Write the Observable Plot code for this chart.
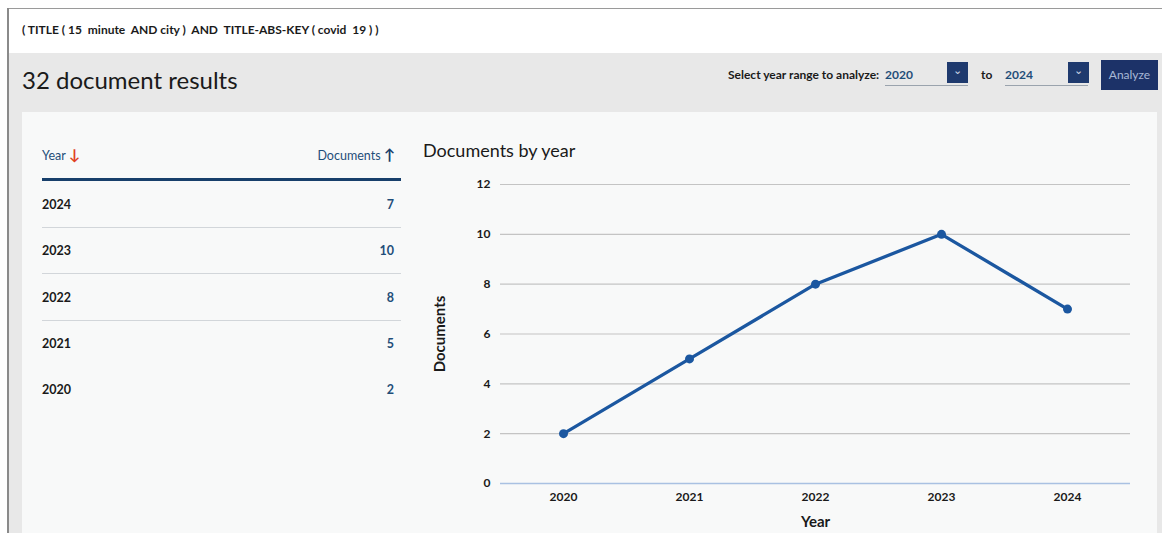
<!DOCTYPE html>
<html>
<head>
<meta charset="utf-8">
<script src="https://cdn.jsdelivr.net/npm/d3@7"></script>
<script src="https://cdn.jsdelivr.net/npm/@observablehq/plot@0.6"></script>
<style>
  html, body { margin: 0; padding: 0; background: #ffffff; }
  body { width: 1162px; height: 533px; position: relative; overflow: hidden; font-family: Lato, "Open Sans", sans-serif; color: #1a1a1a; }
  .abs { position: absolute; white-space: nowrap; }
  #frameTop { left: 7px; top: 8px; width: 1155px; height: 1px; background: #9a9a9a; }
  #frameLeft { left: 7px; top: 8px; width: 2px; height: 525px; background: #8a8a8a; }
  #query { left: 22px; top: 22px; font-size: 12px; font-weight: 700; }
  #band { left: 9px; top: 53px; width: 1153px; height: 480px; background: #e8e8e8; }
  #results { left: 22px; top: 65px; font-size: 24px; font-weight: 400; }
  #sel { left: 728px; top: 67px; font-size: 12px; font-weight: 700; }
  .yr { font-size: 12px; font-weight: 700; color: #1f4e79; }
  .uline { height: 1px; background: #9aa3ad; }
  .dd { width: 21px; height: 21px; background: #1f3a6e; color: #cfd8e6; font-size: 11px; text-align: center; line-height: 15px; }
  #to { left: 981px; top: 67px; font-size: 12px; font-weight: 700; }
  #analyze { left: 1101px; top: 60px; width: 57px; height: 30px; background: #1c3268; color: #a8b8d6; font-size: 12px; text-align: center; line-height: 30px; }
  #panel { left: 22px; top: 112px; width: 1135px; height: 421px; background: #f8f9f9; }
  .th { font-size: 12.5px; font-weight: 400; color: #1f4e79; top: 145px; }
  .arr { font-size: 15px; font-weight: 700; }
  #thick { left: 42px; top: 178px; width: 359px; height: 3px; background: #173f6b; }
  .row { font-size: 12.5px; font-weight: 700; color: #1a1a1a; left: 42px; }
  .val { font-size: 12.5px; font-weight: 700; color: #1f4e79; right: 768px; text-align: right; }
  .sep { left: 42px; width: 359px; height: 1px; background: #d2d6da; }
  #ctitle { left: 423px; top: 139px; font-size: 18px; font-weight: 400; }
  #chart { left: 420px; top: 170px; }
</style>
</head>
<body>
<div id="band" class="abs"></div>
<div id="frameTop" class="abs"></div>
<div id="frameLeft" class="abs"></div>
<div id="query" class="abs">( TITLE ( 15&nbsp; minute&nbsp; AND city )&nbsp; AND&nbsp; TITLE-ABS-KEY ( covid&nbsp; 19 ) )</div>
<div id="results" class="abs">32 document results</div>
<div id="sel" class="abs">Select year range to analyze:</div>
<div class="abs yr" style="left:885px;top:67px;">2020</div>
<div class="abs uline" style="left:885px;top:85px;width:83px;"></div>
<div class="abs dd" style="left:947px;top:62px;">&#8964;</div>
<div id="to" class="abs">to</div>
<div class="abs yr" style="left:1005px;top:67px;">2024</div>
<div class="abs uline" style="left:1005px;top:85px;width:83px;"></div>
<div class="abs dd" style="left:1068px;top:62px;">&#8964;</div>
<div id="analyze" class="abs">Analyze</div>
<div id="panel" class="abs"></div>
<div class="abs th" style="left:42px;">Year <span class="arr" style="color:#e0401f;">&#8595;</span></div>
<div class="abs th" style="right:767px;text-align:right;">Documents <span class="arr" style="color:#173f6b;">&#8593;</span></div>
<div id="thick" class="abs"></div>
<div id="rows"></div>
<div id="ctitle" class="abs">Documents by year</div>
<div id="chart" class="abs"></div>
<script>
const years = [2020, 2021, 2022, 2023, 2024];
const documents = [2, 5, 8, 10, 7];
const yTicks = [0, 2, 4, 6, 8, 10, 12];

const data = years.map((y, i) => ({year: y, docs: documents[i]}));

// table rows (descending by year)
const rowsEl = document.getElementById("rows");
const tableRows = data.slice().reverse();
tableRows.forEach((d, i) => {
  const top = 197 + i * 46.3;
  const r = document.createElement("div");
  r.className = "abs row"; r.style.top = top + "px"; r.textContent = d.year;
  rowsEl.appendChild(r);
  const v = document.createElement("div");
  v.className = "abs val"; v.style.top = top + "px"; v.textContent = d.docs;
  rowsEl.appendChild(v);
  if (i < tableRows.length - 2) {
    const s = document.createElement("div");
    s.className = "abs sep"; s.style.top = (top + 30) + "px";
    rowsEl.appendChild(s);
  }
});

const chart = Plot.plot({
  width: 730,
  height: 360,
  marginLeft: 80,
  marginRight: 20,
  marginTop: 14,
  marginBottom: 47,
  style: {fontFamily: "Lato, 'Open Sans', sans-serif", fontSize: "12px", fontWeight: 700, color: "#1a1a1a", background: "transparent"},
  x: {type: "point", domain: years, padding: 0.5, label: null},
  y: {domain: [0, 12], ticks: yTicks, label: null},
  marks: [
    Plot.gridY(yTicks.filter(t => t > 0), {stroke: "#c4c4c4", strokeOpacity: 1, strokeWidth: 1.2}),
    Plot.ruleY([0], {stroke: "#a9c1e2", strokeWidth: 1.5}),
    Plot.axisY({ticks: yTicks, tickSize: 0, tickPadding: 10, label: null, fontWeight: 700}),
    Plot.axisX({tickSize: 0, tickPadding: 9, label: null, tickFormat: d => String(d), fontWeight: 700}),
    Plot.lineY(data, {x: "year", y: "docs", stroke: "#1b57a0", strokeWidth: 3.3}),
    Plot.dot(data, {x: "year", y: "docs", fill: "#1b57a0", r: 4.5}),
    Plot.text(["Year"], {frameAnchor: "bottom", lineAnchor: "middle", dy: 39, fontSize: 15, fontWeight: 700, fill: "#1a1a1a", text: d => d}),
    Plot.text(["Documents"], {frameAnchor: "left", textAnchor: "middle", lineAnchor: "middle", dx: -60, rotate: -90, fontSize: 15, fontWeight: 700, fill: "#1a1a1a", text: d => d})
  ]
});
document.getElementById("chart").appendChild(chart);
</script>
</body>
</html>
